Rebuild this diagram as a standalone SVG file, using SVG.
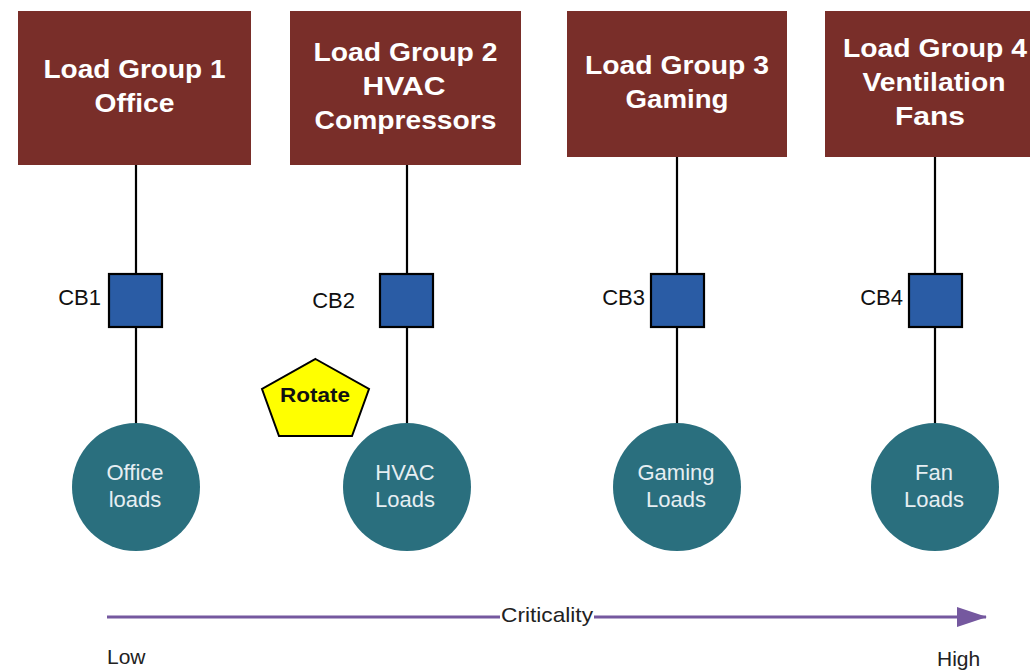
<svg xmlns="http://www.w3.org/2000/svg" width="1030" height="670" viewBox="0 0 1030 670">
  <defs>
    <style>
      .grp { fill: #792e29; }
      .grp-t { font-family: "Liberation Sans", Arial, sans-serif; font-weight: bold; font-size: 25px; fill: #ffffff; text-anchor: middle; }
      .wire { stroke: #000000; stroke-width: 2.2; fill: none; }
      .cb { fill: #2a5ca5; stroke: #000000; stroke-width: 2.2; }
      .cb-t { font-family: "Liberation Sans", Arial, sans-serif; font-size: 22px; fill: #111111; text-anchor: end; }
      .load { fill: #2a6f7e; }
      .load-t { font-family: "Liberation Sans", Arial, sans-serif; font-size: 22px; fill: #e6eef2; text-anchor: middle; }
      .axis { stroke: #75589f; stroke-width: 3; fill: none; }
      .axis-t { font-family: "Liberation Sans", Arial, sans-serif; font-size: 21px; fill: #222222; }
    </style>
    <marker id="arrowHead" viewBox="0 0 30 20" refX="29" refY="10" markerWidth="30" markerHeight="20" markerUnits="userSpaceOnUse" orient="auto">
      <path d="M0,0 L30,10 L0,20 Z" fill="#75589f"/>
    </marker>
  </defs>

  <rect width="1030" height="670" fill="#ffffff"/>

  <!-- feeder wires: group box to breaker to load -->
  <g id="connectors">
    <line class="wire" x1="136" y1="165" x2="136" y2="424"/>
    <line class="wire" x1="407" y1="165" x2="407" y2="424"/>
    <line class="wire" x1="677" y1="157" x2="677" y2="424"/>
    <line class="wire" x1="935" y1="157" x2="935" y2="424"/>
  </g>

  <!-- load groups -->
  <g id="group1">
    <rect class="grp" x="18" y="11" width="233" height="154"/>
    <text class="grp-t" x="134.5" y="78" textLength="182" lengthAdjust="spacingAndGlyphs">Load Group 1</text>
    <text class="grp-t" x="134.5" y="112" textLength="80" lengthAdjust="spacingAndGlyphs">Office</text>
  </g>
  <g id="group2">
    <rect class="grp" x="290" y="11" width="231" height="154"/>
    <text class="grp-t" x="405.5" y="61" textLength="184" lengthAdjust="spacingAndGlyphs">Load Group 2</text>
    <text class="grp-t" x="404" y="95" textLength="83" lengthAdjust="spacingAndGlyphs">HVAC</text>
    <text class="grp-t" x="405.5" y="129" textLength="182" lengthAdjust="spacingAndGlyphs">Compressors</text>
  </g>
  <g id="group3">
    <rect class="grp" x="567" y="11" width="220" height="146"/>
    <text class="grp-t" x="677" y="74" textLength="184" lengthAdjust="spacingAndGlyphs">Load Group 3</text>
    <text class="grp-t" x="677" y="108" textLength="103" lengthAdjust="spacingAndGlyphs">Gaming</text>
  </g>
  <g id="group4">
    <rect class="grp" x="825" y="11" width="220" height="146"/>
    <text class="grp-t" x="935" y="57" textLength="184" lengthAdjust="spacingAndGlyphs">Load Group 4</text>
    <text class="grp-t" x="934" y="91" textLength="143" lengthAdjust="spacingAndGlyphs">Ventilation</text>
    <text class="grp-t" x="930" y="125" textLength="70" lengthAdjust="spacingAndGlyphs">Fans</text>
  </g>

  <!-- circuit breakers -->
  <g id="cb1">
    <rect class="cb" x="109" y="274" width="53" height="53"/>
    <text class="cb-t" x="101" y="305">CB1</text>
  </g>
  <g id="cb2">
    <rect class="cb" x="380" y="274" width="53" height="53"/>
    <text class="cb-t" x="355" y="308">CB2</text>
  </g>
  <g id="cb3">
    <rect class="cb" x="651" y="274" width="53" height="53"/>
    <text class="cb-t" x="645" y="305">CB3</text>
  </g>
  <g id="cb4">
    <rect class="cb" x="909" y="274" width="53" height="53"/>
    <text class="cb-t" x="903" y="305">CB4</text>
  </g>

  <!-- loads -->
  <g id="load1">
    <circle class="load" cx="136" cy="487" r="64"/>
    <text class="load-t" x="135" y="480">Office</text>
    <text class="load-t" x="135" y="507">loads</text>
  </g>
  <g id="load2">
    <circle class="load" cx="407" cy="487" r="64"/>
    <text class="load-t" x="405" y="480">HVAC</text>
    <text class="load-t" x="405" y="507">Loads</text>
  </g>
  <g id="load3">
    <circle class="load" cx="677" cy="487" r="64"/>
    <text class="load-t" x="676" y="480">Gaming</text>
    <text class="load-t" x="676" y="507">Loads</text>
  </g>
  <g id="load4">
    <circle class="load" cx="935" cy="487" r="64"/>
    <text class="load-t" x="934" y="480">Fan</text>
    <text class="load-t" x="934" y="507">Loads</text>
  </g>

  <!-- rotation marker -->
  <g id="rotate">
    <polygon points="315.5,359 369,389 352,436 279,436 262,389" fill="#ffff00" stroke="#000000" stroke-width="2"/>
    <text x="315" y="402" font-family="'Liberation Sans', Arial, sans-serif" font-weight="bold" font-size="20px" fill="#111111" text-anchor="middle" textLength="70" lengthAdjust="spacingAndGlyphs">Rotate</text>
  </g>

  <!-- criticality axis -->
  <g id="criticality">
    <line class="axis" x1="107" y1="617" x2="500" y2="617"/>
    <line class="axis" x1="594" y1="617" x2="986" y2="617" marker-end="url(#arrowHead)"/>
    <text class="axis-t" x="547" y="622" text-anchor="middle" textLength="92" lengthAdjust="spacingAndGlyphs">Criticality</text>
    <text class="axis-t" x="107" y="664">Low</text>
    <text class="axis-t" x="937" y="666">High</text>
  </g>
</svg>
